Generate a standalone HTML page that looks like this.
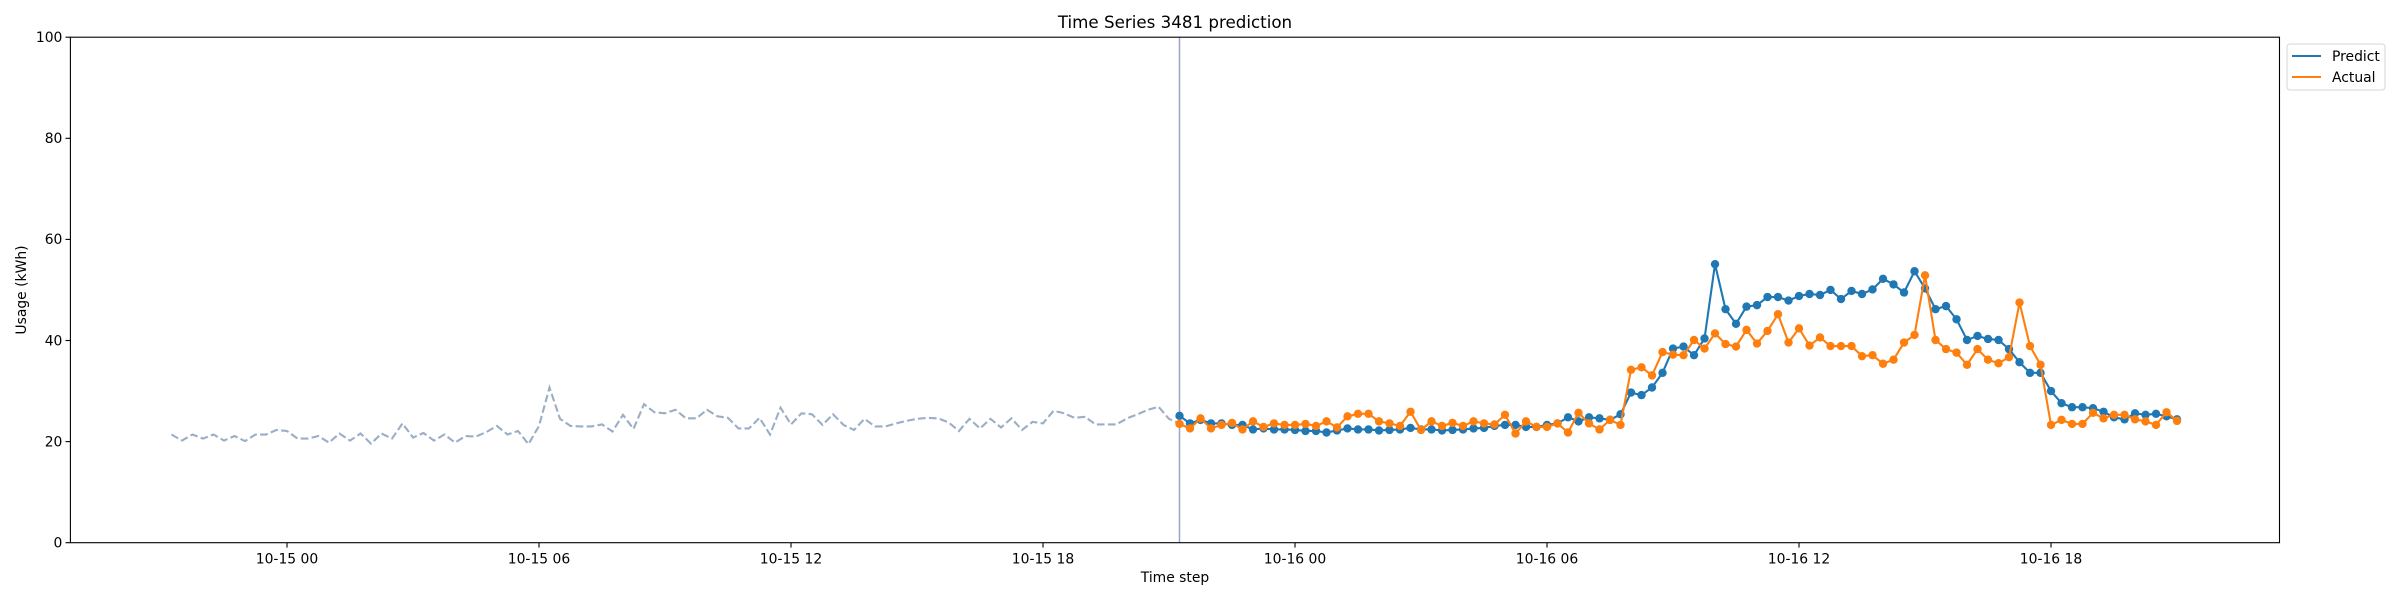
<!DOCTYPE html>
<html><head><meta charset="utf-8"><style>
html,body{margin:0;padding:0;background:#fff;}
svg{display:block;font-family:"DejaVu Sans","Liberation Sans",sans-serif;}
</style></head><body>
<svg id="chart" width="2400" height="600" viewBox="0 0 2400 600" xmlns="http://www.w3.org/2000/svg">
<rect x="0" y="0" width="2400" height="600" fill="#fff"/>
<text x="1175" y="28" font-size="16.7" text-anchor="middle">Time Series 3481 prediction</text>
<g id="plot"></g>
<rect x="70.4" y="37.2" width="2209.1" height="505.5" fill="none" stroke="#000" stroke-width="1.1"/>
<g id="yticks"></g>
<g id="xticks"></g>
<text x="1175" y="582" font-size="13.9" text-anchor="middle">Time step</text>
<text x="26" y="290" font-size="13.9" text-anchor="middle" transform="rotate(-90 26 290)">Usage (kWh)</text>
<g>
<rect x="2287" y="44" width="98" height="46" rx="3" fill="#fff" stroke="#d6d6d6" stroke-width="1"/>
<line x1="2292" y1="56" x2="2321" y2="56" stroke="#1f77b4" stroke-width="2.1"/>
<text x="2332" y="61" font-size="13.9">Predict</text>
<line x1="2292" y1="77" x2="2321" y2="77" stroke="#ff7f0e" stroke-width="2.1"/>
<text x="2332" y="82" font-size="13.9">Actual</text>
</g>
</svg>
<script>
const historyValues=[21.4,20.2,21.4,20.6,21.4,20.2,21.1,20.1,21.4,21.4,22.3,22.1,20.6,20.6,21.1,19.8,21.6,20.2,21.6,19.6,21.6,20.6,23.6,20.8,21.7,20.2,21.4,19.8,21.1,21.0,21.9,23.1,21.4,22.1,19.5,23.1,30.7,
24.5,23.1,23.0,23.0,23.4,22.0,25.3,22.5,27.4,25.8,25.6,26.3,24.6,24.6,26.3,25.0,24.7,22.6,22.6,24.7,21.4,26.7,23.4,25.6,25.4,23.3,25.4,23.3,22.3,24.5,23.0,23.0,23.6,24.1,24.5,24.7,24.6,23.8,22.1,24.5,22.6,24.5,22.8,24.6,22.3,23.9,23.6,26.1,25.6,24.7,24.9,23.4,23.4,23.4,24.6,25.4,26.3,26.9,24.5,23.6];
const predictValues=[25.1,23.6,24.3,23.6,23.6,23.3,23.3,22.4,22.6,22.4,22.4,22.3,22.1,22.1,21.8,22.2,22.6,22.4,22.4,22.2,22.3,22.4,22.7,22.4,22.4,22.2,22.3,22.4,22.6,22.7,23.1,23.3,23.3,22.9,22.9,23.3,23.6,24.8,24.0,24.8,24.6,24.3,25.4,29.7,29.2,30.7,33.6,38.4,
38.8,37.1,40.4,55.1,46.2,43.3,46.7,47.0,48.6,48.6,47.9,48.8,49.2,49.0,50.0,48.2,49.8,49.2,50.1,52.2,51.1,49.5,53.7,50.3,46.2,46.8,44.2,40.1,40.9,40.3,40.1,38.3,35.7,33.6,33.6,30.0,27.6,26.8,26.8,26.6,25.9,24.8,24.4,25.6,25.3,25.5,25.0,24.4];
const actualValues=[23.5,22.6,24.6,22.6,23.3,23.7,22.4,24.0,22.9,23.6,23.3,23.3,23.5,23.1,24.0,22.8,25.0,25.5,25.5,24.0,23.6,23.1,25.9,22.3,24.0,23.1,23.7,23.1,24.0,23.6,23.4,25.3,21.6,24.0,22.9,22.9,23.6,21.8,25.7,23.6,22.4,24.3,23.3,34.2,34.7,33.1,37.7,37.2,
37.1,40.1,38.4,41.4,39.3,38.8,42.1,39.4,41.9,45.2,39.6,42.4,39.0,40.6,38.9,38.9,38.9,36.9,37.1,35.4,36.2,39.6,41.1,52.9,40.1,38.3,37.6,35.2,38.3,36.2,35.5,36.7,47.5,38.9,35.2,23.3,24.3,23.5,23.5,25.7,24.6,25.3,25.3,24.4,24.0,23.3,25.8,24.1];
const yTickValues=[0,20,40,60,80,100];
const xTickHours=[0,6,12,18,24,30,36,42];
const xTickLabels=["10-15 00","10-15 06","10-15 12","10-15 18","10-16 00","10-16 06","10-16 12","10-16 18"];
const historyStartHour=-2.75;
const forecastStartHour=21.25;
const stepHours=0.25;

const NS="http://www.w3.org/2000/svg";
const L=70.4,R=2279.5,T=37.2,B=542.7;
const xMin=-5.157,xMax=47.44;
function xScale(h){return L+(h-xMin)/(xMax-xMin)*(R-L);}
function yScale(v){return B-(v/100)*(B-T);}
function mk(tag,attrs,parent){const e=document.createElementNS(NS,tag);for(const k in attrs)e.setAttribute(k,attrs[k]);parent.appendChild(e);return e;}
const plot=document.getElementById('plot');
const yt=document.getElementById('yticks');
const xt=document.getElementById('xticks');

yTickValues.forEach(v=>{
  const y=yScale(v);
  const t=mk('line',{x1:L-4.9,x2:L,y1:y,y2:y,stroke:'#000','stroke-width':1.1},yt);
  
  
  const l=mk('text',{x:L-8,y:y+4.8,'font-size':13.9,'text-anchor':'end'},yt);
  l.textContent=String(v);
  
  
});
xTickHours.forEach((h,i)=>{
  const x=xScale(h);
  const t=mk('line',{x1:x,x2:x,y1:B,y2:B+4.9,stroke:'#000','stroke-width':1.1},xt);
  
  
  const l=mk('text',{x:x,y:B+21,'font-size':13.9,'text-anchor':'middle'},xt);
  l.textContent=xTickLabels[i];
  
  
});

function pts(vals,start){return vals.map((v,i)=>xScale(start+i*stepHours).toFixed(2)+','+yScale(v).toFixed(2)).join(' ');}
const hist=mk('polyline',{points:pts(historyValues,historyStartHour),fill:'none',stroke:'#9aaec6','stroke-width':2.1,'stroke-dasharray':'7.7,3.3'},plot);



const vx=xScale(forecastStartHour);
const vl=mk('line',{x1:vx,x2:vx,y1:T,y2:B,stroke:'#9aa6c8','stroke-width':1.5},plot);



function series(vals,color,name){
  const g=mk('g',{},plot);
  
  
  const pl=mk('polyline',{points:pts(vals,forecastStartHour),fill:'none',stroke:color,'stroke-width':2.1},g);
  
  
  vals.forEach((v,i)=>{
    const c=mk('circle',{cx:xScale(forecastStartHour+i*stepHours),cy:yScale(v),r:4.2,fill:color},g);
    
    
  });
}
series(predictValues,'#1f77b4','predict');
series(actualValues,'#ff7f0e','actual');
</script>
</body></html>
